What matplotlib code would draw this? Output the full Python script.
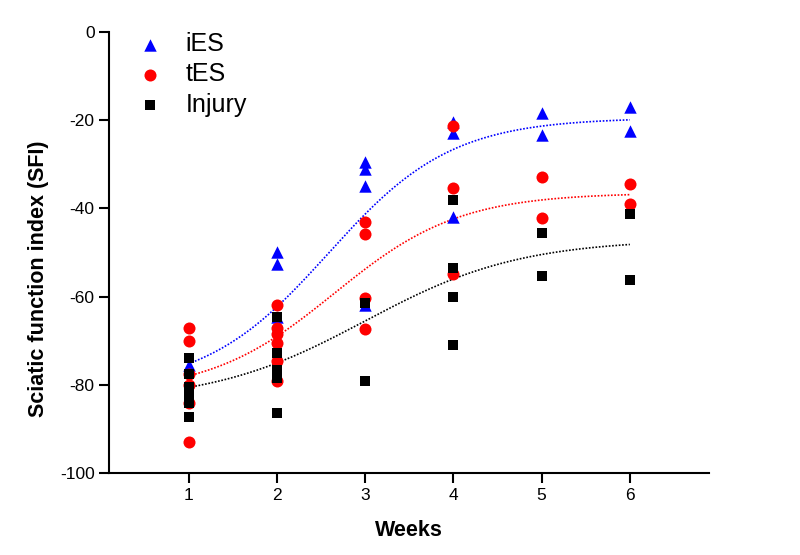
import numpy as np
import matplotlib
matplotlib.use('Agg')
import matplotlib.pyplot as plt

plt.rcParams['font.family'] = ['Liberation Sans', 'DejaVu Sans']
plt.rcParams['axes.unicode_minus'] = False

# raw points (week, SFI)
ies_weeks = [1, 2, 2, 2, 3, 3, 3, 3, 4, 4, 4, 5, 5, 6, 6]
ies_sfi = [-75.5, -50, -52.5, -64.5, -29.5, -31, -35, -62, -20.5, -23, -42, -18.5, -23.5, -17, -22.5]

tes_weeks = [1, 1, 1, 1, 1, 1, 2, 2, 2, 2, 2, 2, 3, 3, 3, 3, 4, 4, 4, 5, 5, 6, 6]
tes_sfi = [-67, -70, -77.5, -80, -84, -93, -62, -67, -68.5, -70.5, -74.5, -79,
           -43, -45.7, -60.3, -67.3, -21.3, -35.5, -54.8, -32.8, -42.2, -34.5, -39]

inj_weeks = [1, 1, 1, 1, 1, 1, 2, 2, 2, 2, 2, 2, 3, 3, 4, 4, 4, 4, 5, 5, 6, 6]
inj_sfi = [-73.8, -77.5, -80.5, -82, -84, -87.3, -64.7, -72.7, -76.5, -77.5, -78.5, -86.3,
           -61.5, -79, -38, -53.5, -60, -71, -45.5, -55.3, -41.3, -56.2]

# boltzmann fit parameters: bottom, top, x0, dx
ies_fit = [-81, -19.5, 2.58, 0.70]
tes_fit = [-82, -36.5, 2.65, 0.71]
inj_fit = [-84, -47, 3.0, 0.88]


def boltzmann(x, p):
    bottom, top, x0, dx = p
    return top + (bottom - top) / (1 + np.exp((x - x0) / dx))


fig = plt.figure(figsize=(8, 5.55), dpi=100)
ax = fig.add_axes([0.1366, 0.1472, 0.75, 0.7957])

xs = np.linspace(1, 6, 200)
ax.plot(xs, boltzmann(xs, ies_fit), color='blue', linestyle=(0, (1, 1)), linewidth=1.2)
ax.plot(xs, boltzmann(xs, tes_fit), color='red', linestyle=(0, (1, 1)), linewidth=1.2)
ax.plot(xs, boltzmann(xs, inj_fit), color='black', linestyle=(0, (1, 1)), linewidth=1.2)

ax.scatter(ies_weeks, ies_sfi, marker='^', s=80, color='blue', linewidths=0, label='iES', zorder=3)
ax.scatter(tes_weeks, tes_sfi, marker='o', s=75, color='red', linewidths=0, label='tES', zorder=3)
ax.scatter(inj_weeks, inj_sfi, marker='s', s=42, color='black', linewidths=0, label='Injury', zorder=3)

ax.set_xlim(0.1, 6.9)
ax.set_ylim(-100, 0)
ax.set_xticks([1, 2, 3, 4, 5, 6])
ax.set_yticks([0, -20, -40, -60, -80, -100])
ax.spines['top'].set_visible(False)
ax.spines['right'].set_visible(False)
ax.spines['left'].set_linewidth(1.5)
ax.spines['bottom'].set_linewidth(1.5)
ax.tick_params(direction='out', length=7, width=1.5, labelsize=12.5)

ax.set_xlabel('Weeks', fontsize=15.5, fontweight='bold', labelpad=12)
ax.set_ylabel('Sciatic function index (SFI)', fontsize=15.5, fontweight='bold')
ax.yaxis.set_label_coords(-0.1, 0.44)

ax.legend(loc='upper left', bbox_to_anchor=(-0.012, 1.05), frameon=False, fontsize=18,
          handletextpad=0.45, labelspacing=0.25, markerscale=1.0)

fig.savefig('out.png', dpi=100)
